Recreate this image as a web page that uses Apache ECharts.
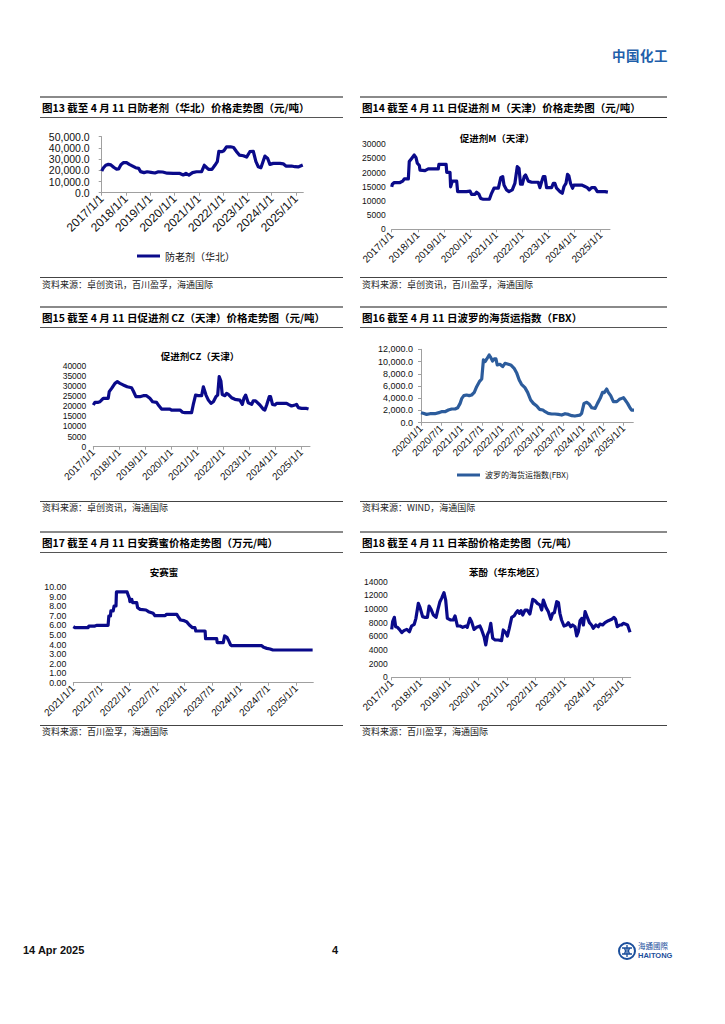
<!DOCTYPE html>
<html><head><meta charset="utf-8">
<script src="https://cdn.jsdelivr.net/npm/echarts@6/dist/echarts.min.js"></script>
<style>
html,body{margin:0;padding:0;background:#fff;}
body{width:725px;height:1024px;position:relative;overflow:hidden;font-family:"Noto Sans CJK SC","Liberation Sans",sans-serif;}
#chart{position:absolute;left:0;top:0;width:725px;height:1024px;}
.t{position:absolute;white-space:nowrap;z-index:2;}
.ptitle{font-size:10.5px;font-weight:bold;color:#000;line-height:14px;}
.src{font-size:9px;color:#222;line-height:12px;}
.ln{position:absolute;z-index:2;}
</style></head>
<body>
<div id="chart"></div>
<div class="t" style="left:612px;top:46px;font-size:13.5px;font-weight:bold;color:#1F5FAA;letter-spacing:0.5px;line-height:18px;">中国化工</div>

<!-- row 1 -->
<div class="ln" style="left:40px;top:96px;width:303px;height:2px;background:#8a8a8a"></div>
<div class="ln" style="left:360px;top:96px;width:307px;height:2px;background:#8a8a8a"></div>
<div class="t ptitle" style="left:42px;top:101px;">图13 截至 4 月 11 日防老剂（华北）价格走势图（元/吨）</div>
<div class="t ptitle" style="left:362px;top:101px;">图14 截至 4 月 11 日促进剂 M（天津）价格走势图（元/吨）</div>
<div class="ln" style="left:40px;top:117px;width:303px;height:1px;background:#555"></div>
<div class="ln" style="left:360px;top:117px;width:307px;height:1px;background:#222"></div>
<div class="ln" style="left:40px;top:277px;width:303px;height:1px;background:#444"></div>
<div class="ln" style="left:360px;top:277px;width:307px;height:1px;background:#444"></div>
<div class="t src" style="left:42px;top:279px;">资料来源：卓创资讯，百川盈孚，海通国际</div>
<div class="t src" style="left:362px;top:279px;">资料来源：卓创资讯，百川盈孚，海通国际</div>

<!-- row 2 -->
<div class="ln" style="left:40px;top:306px;width:303px;height:2px;background:#8a8a8a"></div>
<div class="ln" style="left:360px;top:306px;width:307px;height:2px;background:#8a8a8a"></div>
<div class="t ptitle" style="left:42px;top:311px;">图15 截至 4 月 11 日促进剂 CZ（天津）价格走势图（元/吨）</div>
<div class="t ptitle" style="left:362px;top:311px;">图16 截至 4 月 11 日波罗的海货运指数（FBX）</div>
<div class="ln" style="left:40px;top:327px;width:303px;height:1px;background:#555"></div>
<div class="ln" style="left:360px;top:327px;width:307px;height:1px;background:#555"></div>
<div class="ln" style="left:40px;top:501px;width:303px;height:1px;background:#444"></div>
<div class="ln" style="left:360px;top:501px;width:307px;height:1px;background:#444"></div>
<div class="t src" style="left:42px;top:502px;">资料来源：卓创资讯，海通国际</div>
<div class="t src" style="left:362px;top:502px;">资料来源：WIND，海通国际</div>

<!-- row 3 -->
<div class="ln" style="left:40px;top:531px;width:303px;height:2px;background:#8a8a8a"></div>
<div class="ln" style="left:360px;top:531px;width:307px;height:2px;background:#8a8a8a"></div>
<div class="t ptitle" style="left:42px;top:536px;">图17 截至 4 月 11 日安赛蜜价格走势图（万元/吨）</div>
<div class="t ptitle" style="left:362px;top:536px;">图18 截至 4 月 11 日苯酚价格走势图（元/吨）</div>
<div class="ln" style="left:40px;top:552px;width:303px;height:1px;background:#555"></div>
<div class="ln" style="left:360px;top:552px;width:307px;height:1px;background:#555"></div>
<div class="ln" style="left:40px;top:725px;width:303px;height:1px;background:#444"></div>
<div class="ln" style="left:360px;top:725px;width:307px;height:1px;background:#444"></div>
<div class="t src" style="left:42px;top:726px;">资料来源：百川盈孚，海通国际</div>
<div class="t src" style="left:362px;top:726px;">资料来源：百川盈孚，海通国际</div>

<!-- footer -->
<div class="t" style="left:23px;top:942px;font-family:'Liberation Sans',sans-serif;font-size:11px;font-weight:bold;color:#111;line-height:16px;">14 Apr 2025</div>
<div class="t" style="left:332px;top:942px;font-family:'Liberation Sans',sans-serif;font-size:11px;font-weight:bold;color:#111;line-height:16px;">4</div>
<svg class="t" style="left:618px;top:940px;" width="70" height="22" viewBox="0 0 70 22">
  <circle cx="9" cy="11" r="8" fill="none" stroke="#1B4F9C" stroke-width="2"/>
  <path d="M4 8 H14 M4 14 H14 M9 5 V17 M6 8 Q9 11 6 14 M12 8 Q9 11 12 14" stroke="#1B4F9C" stroke-width="1.3" fill="none"/>
  <text x="20" y="9" font-family="Noto Sans CJK TC" font-size="7.5" fill="#1B4F9C">海通國際</text>
  <text x="20" y="18" font-family="Liberation Sans" font-weight="bold" font-size="7.5" fill="#1B4F9C">HAITONG</text>
</svg>

<script>
// ---------------- DATA ----------------
// 图13 防老剂（华北） 元/吨
const dates13 = ['2017-01-01','2017-01-25','2017-03-01','2017-04-10','2017-05-18','2017-07-03','2017-08-12','2017-09-12','2017-10-16','2017-11-21','2018-01-10','2018-02-20','2018-04-03','2018-05-24','2018-07-09','2018-08-08','2018-09-28','2018-11-16','2019-01-12','2019-03-10','2019-05-01','2019-07-04','2019-09-13','2019-12-12','2020-03-20','2020-05-10','2020-06-20','2020-08-04','2020-09-28','2020-11-27','2021-02-12','2021-03-22','2021-04-25','2021-05-25','2021-07-15','2021-09-01','2021-10-04','2021-10-28','2021-12-09','2022-01-13','2022-02-21','2022-04-21','2022-06-06','2022-07-21','2022-09-01','2022-11-01','2022-12-19','2023-02-07','2023-03-28','2023-05-07','2023-06-12','2023-07-21','2023-09-21','2023-11-01','2023-12-04','2024-01-24','2024-05-04','2024-06-22','2024-08-01','2024-10-25','2024-12-15','2025-02-03','2025-04-11'];
const values13 = [19300,22000,24500,25300,24800,22500,21000,21200,25000,26800,26800,25300,24000,22300,21700,18800,17900,18700,18200,17600,18700,18500,17400,17300,17200,15800,17200,15700,17900,18700,18800,24500,22500,20800,20800,24700,27700,37000,36600,37500,41000,41000,40300,36600,33600,33000,31800,36600,37000,27700,23200,22300,32700,30500,25300,26200,26200,25800,23800,23800,23200,23000,24700];
const ticks13 = ['2017/1/1','2018/1/1','2019/1/1','2020/1/1','2021/1/1','2022/1/1','2023/1/1','2024/1/1','2025/1/1'];

// 图14 促进剂M（天津） 元/吨
const dates14 = ['2017-01-01','2017-01-10','2017-02-06','2017-04-25','2017-06-03','2017-06-25','2017-08-21','2017-09-03','2017-10-06','2017-11-12','2017-12-06','2017-12-25','2018-01-22','2018-02-01','2018-04-10','2018-05-25','2018-10-13','2018-10-22','2019-02-01','2019-02-10','2019-03-25','2019-04-03','2019-04-27','2019-06-27','2019-07-10','2019-11-12','2020-01-01','2020-01-22','2020-03-10','2020-04-01','2020-05-04','2020-05-28','2020-07-04','2020-09-28','2020-10-28','2020-12-01','2021-02-01','2021-03-04','2021-04-01','2021-04-19','2021-05-25','2021-06-28','2021-08-13','2021-09-19','2021-10-22','2021-11-16','2021-12-07','2022-01-01','2022-01-28','2022-02-16','2022-03-25','2022-05-10','2022-08-12','2022-09-04','2022-09-28','2022-10-21','2022-11-13','2022-12-06','2023-02-15','2023-03-09','2023-04-01','2023-04-24','2023-06-10','2023-07-12','2023-08-06','2023-09-03','2023-09-25','2023-10-13','2023-11-06','2023-12-04','2023-12-22','2024-04-10','2024-05-10','2024-06-27','2024-07-25','2024-08-27','2024-10-12','2024-11-15','2025-03-01','2025-04-11'];
const values14 = [15000,15900,16500,16500,17000,17800,17800,23900,25000,26200,25300,23300,22500,20900,20700,21300,21300,22900,22900,20100,20100,15000,17000,17000,13300,13300,13500,12350,12350,13100,12350,10900,10600,10600,12700,14500,14500,18200,18600,15600,13900,13300,13900,16200,22100,21500,15900,15900,18600,19200,17000,16600,16600,14700,16800,18600,18600,14700,14700,16200,16200,14500,13300,12700,15100,16200,19400,18900,16200,14500,15600,15600,15300,14700,13900,14700,14700,13300,13300,13100];
const ticks14 = ['2017/1/1','2018/1/1','2019/1/1','2020/1/1','2021/1/1','2022/1/1','2023/1/1','2024/1/1','2025/1/1'];

// 图15 促进剂CZ（天津） 元/吨
const dates15 = ['2017-01-01','2017-01-24','2017-03-10','2017-04-03','2017-04-25','2017-05-19','2017-07-28','2017-08-12','2017-09-15','2017-11-01','2017-12-04','2018-01-10','2018-02-25','2018-04-21','2018-06-21','2018-07-15','2018-08-21','2018-10-15','2018-12-03','2019-01-18','2019-03-04','2019-04-12','2019-06-07','2019-07-10','2019-08-16','2019-12-12','2020-01-04','2020-05-01','2020-06-07','2020-07-10','2020-10-12','2020-11-04','2020-12-07','2021-01-13','2021-03-01','2021-03-25','2021-05-01','2021-06-04','2021-07-10','2021-08-13','2021-09-19','2021-10-13','2021-11-04','2021-11-28','2021-12-16','2022-01-25','2022-02-16','2022-03-10','2022-04-25','2022-06-12','2022-08-21','2022-09-25','2022-10-16','2022-11-10','2022-12-16','2023-02-04','2023-02-25','2023-03-28','2023-05-28','2023-07-12','2023-08-06','2023-09-01','2023-10-07','2023-10-25','2023-11-22','2023-12-25','2024-01-19','2024-06-07','2024-07-01','2024-08-16','2024-10-04','2024-10-25','2024-11-19','2025-01-04','2025-03-13','2025-04-11'];
const values15 = [20600,21900,21900,22200,23000,23900,23900,27200,28800,31300,32100,31300,30500,29600,29100,27500,24700,24700,25200,25200,23900,22200,21900,20200,18600,18600,18100,18100,17000,16800,16800,20600,25500,25200,25200,29600,25500,23000,21400,22200,24700,25500,34600,32400,25800,25200,26300,25800,24200,23400,23000,20900,23900,25500,21700,20900,22600,22600,20600,18600,18100,20600,24700,24700,20900,20600,21400,21400,20900,20100,20600,20900,19300,18900,18900,18600];
const ticks15 = ['2017/1/1','2018/1/1','2019/1/1','2020/1/1','2021/1/1','2022/1/1','2023/1/1','2024/1/1','2025/1/1'];

// 图16 波罗的海货运指数(FBX)
const dates16 = ['2020-01-01','2020-01-21','2020-02-21','2020-03-21','2020-05-04','2020-06-19','2020-07-04','2020-08-04','2020-09-04','2020-10-04','2020-11-04','2020-11-28','2020-12-19','2021-01-04','2021-01-22','2021-02-16','2021-03-10','2021-04-01','2021-04-25','2021-05-16','2021-06-10','2021-07-01','2021-07-16','2021-08-01','2021-08-16','2021-09-07','2021-09-22','2021-10-07','2021-10-22','2021-11-07','2021-11-19','2021-12-13','2022-01-07','2022-01-28','2022-02-28','2022-03-19','2022-04-19','2022-05-13','2022-06-04','2022-06-25','2022-07-25','2022-08-19','2022-09-16','2022-10-10','2022-11-10','2022-12-04','2023-01-04','2023-01-25','2023-02-22','2023-03-22','2023-04-22','2023-05-22','2023-06-22','2023-07-22','2023-08-22','2023-09-22','2023-10-19','2023-12-04','2023-12-19','2024-01-10','2024-02-04','2024-02-28','2024-03-19','2024-04-19','2024-05-10','2024-06-04','2024-06-25','2024-07-10','2024-08-01','2024-08-16','2024-09-07','2024-10-01','2024-11-01','2024-11-25','2024-12-16','2025-01-01','2025-01-16','2025-02-07','2025-03-01','2025-03-13','2025-04-04'];
const values16 = [1640,1530,1360,1470,1470,1690,1800,1800,2070,2240,2240,2450,3160,3980,4420,4530,4420,4530,4960,5890,6710,7150,10260,10000,10420,11070,10640,10090,10420,10420,9440,9550,9170,9710,9550,9440,8890,8070,6980,6270,5730,4960,3710,3160,2730,2180,2070,1800,1530,1420,1420,1360,1250,1470,1360,1150,1090,1250,1530,3160,3330,3000,2450,2350,3160,3980,4960,4910,5510,4960,4420,3440,3440,3820,3980,4090,3710,3160,2350,2070,2070];
const ticks16 = ['2020/1/1','2020/7/1','2021/1/1','2021/7/1','2022/1/1','2022/7/1','2023/1/1','2023/7/1','2024/1/1','2024/7/1','2025/1/1'];

// 图17 安赛蜜 万元/吨
const dates17 = ['2021-01-01','2021-01-12','2021-04-07','2021-04-12','2021-05-21','2021-06-01','2021-08-16','2021-08-21','2021-09-01','2021-09-04','2021-09-19','2021-09-25','2021-10-07','2021-10-10','2021-12-19','2021-12-28','2022-01-04','2022-01-07','2022-01-19','2022-01-25','2022-02-21','2022-02-27','2022-03-13','2022-04-21','2022-05-07','2022-06-07','2022-06-19','2022-08-25','2022-09-04','2022-11-10','2022-11-19','2022-12-04','2022-12-28','2023-01-13','2023-02-01','2023-02-22','2023-03-07','2023-03-13','2023-05-13','2023-05-16','2023-07-28','2023-08-01','2023-09-10','2023-09-19','2023-10-04','2023-10-13','2023-10-28','2023-11-04','2024-05-19','2024-06-01','2024-06-22','2024-07-13','2024-08-01','2025-04-18'];
const values17 = [5.87,5.77,5.77,5.94,5.94,6.01,6.01,6.99,6.99,7.52,7.52,8.04,8.04,9.51,9.51,9.09,8.85,8.50,8.74,8.39,8.39,7.87,7.69,7.62,7.45,7.27,7.03,7.03,7.17,7.17,6.92,6.57,6.50,6.40,6.05,5.77,5.77,5.42,5.42,4.62,4.62,4.20,4.20,4.90,4.76,4.48,3.95,3.88,3.88,3.71,3.60,3.53,3.43,3.43];
const ticks17 = ['2021/1/1','2021/7/1','2022/1/1','2022/7/1','2023/1/1','2023/7/1','2024/1/1','2024/7/1','2025/1/1'];

// 图18 苯酚（华东地区） 元/吨
const dates18 = ['2017-01-01','2017-01-13','2017-02-04','2017-02-21','2017-03-13','2017-04-07','2017-05-07','2017-06-04','2017-07-10','2017-08-13','2017-09-10','2017-10-13','2017-11-04','2017-12-04','2017-12-25','2018-01-28','2018-02-28','2018-03-28','2018-04-19','2018-05-13','2018-06-13','2018-07-16','2018-08-07','2018-09-04','2018-09-25','2018-10-25','2018-11-16','2018-12-07','2019-01-19','2019-02-21','2019-03-13','2019-04-13','2019-05-16','2019-06-19','2019-08-01','2019-08-16','2019-09-19','2019-10-10','2019-11-10','2019-12-13','2020-01-25','2020-02-16','2020-03-16','2020-04-07','2020-04-28','2020-05-22','2020-06-10','2020-07-04','2020-08-04','2020-09-13','2020-10-25','2020-11-16','2020-12-16','2021-01-07','2021-02-01','2021-03-01','2021-04-01','2021-04-25','2021-05-16','2021-06-07','2021-06-28','2021-07-19','2021-08-19','2021-09-16','2021-10-19','2021-11-25','2021-12-22','2022-01-22','2022-02-25','2022-03-16','2022-04-07','2022-05-10','2022-06-10','2022-07-10','2022-08-04','2022-08-25','2022-09-25','2022-10-16','2022-11-04','2022-11-25','2022-12-25','2023-01-28','2023-02-19','2023-03-19','2023-04-13','2023-05-13','2023-06-04','2023-06-25','2023-07-16','2023-08-07','2023-08-28','2023-09-19','2023-10-10','2023-11-13','2023-12-10','2024-01-01','2024-02-04','2024-03-04','2024-03-25','2024-04-28','2024-05-28','2024-07-10','2024-08-22','2024-09-19','2024-10-10','2024-11-01','2024-12-04','2024-12-25','2025-01-16','2025-02-19','2025-03-10','2025-04-11'];
const values18 = [7020,8150,8780,7410,7320,7020,6540,6830,7020,6680,7510,7760,8630,10830,10240,8880,8780,8780,10440,9950,9120,8780,9850,11070,11560,12390,11320,8630,8390,8390,8980,7510,7510,7320,7510,7320,8630,8150,7020,7320,7510,6930,5950,4730,6200,6830,7900,5710,5460,5460,5370,6930,6540,6050,7170,8780,8980,9460,9760,9370,9760,9120,9850,9850,9270,11410,11220,10830,10590,9850,11320,10240,9610,8490,9370,9460,11070,10930,9370,8390,7510,7660,8000,7410,7660,7410,6050,6680,8290,8630,7660,9610,8980,8000,7660,7170,7660,7410,7800,7660,8000,8290,8490,8780,8490,7410,7660,7660,7900,7760,7660,6600];
const ticks18 = ['2017/1/1','2018/1/1','2019/1/1','2020/1/1','2021/1/1','2022/1/1','2023/1/1','2024/1/1','2025/1/1'];

// ---------------- HELPERS ----------------
function toMonths(ds, y0) {
  const p = ds.split('-').map(Number);
  return (p[0] - y0) * 12 + (p[1] - 1) + (p[2] - 1) / 30.5;
}
function pairs(dates, vals, y0) { return dates.map((d, i) => [toMonths(d, y0), vals[i]]); }

const NUM = '"Liberation Sans", Arial, sans-serif';
const CJK = '"Noto Sans CJK SC", sans-serif';
const NAVY = '#0A0A8A';
const FBX = '#2C5C9C';

const chart = echarts.init(document.getElementById('chart'), null, {renderer: 'svg'});

const cfg = [
  {left:101.7, top:136.7, width:201.6, height:56, xmax:99.6, step:12, ticks:ticks13, ymax:50000, yint:10000, yfmt:v=>v.toLocaleString('en-US',{minimumFractionDigits:1,maximumFractionDigits:1}), yline:true, yFont:10.5, xFont:12, yMargin:12},
  {left:391.7, top:144.3, width:218.3, height:85, xmax:100.3, step:12, ticks:ticks14, ymax:30000, yint:5000, yfmt:v=>String(v), yline:false, yFont:8.5, xFont:10, yMargin:6},
  {left:93.3, top:365.7, width:216.7, height:81, xmax:100, step:12, ticks:ticks15, ymax:40000, yint:5000, yfmt:v=>String(v), yline:false, yFont:8.5, xFont:10, yMargin:7},
  {left:421, top:349.3, width:212.3, height:73.4, xmax:62.9, step:6, ticks:ticks16, ymax:12000, yint:2000, yfmt:v=>v.toLocaleString('en-US',{minimumFractionDigits:1,maximumFractionDigits:1}), yline:true, yFont:9, xFont:10, yMargin:8},
  {left:73.3, top:587.3, width:240, height:95.4, xmax:51.7, step:6, ticks:ticks17, ymax:10, yint:1, yfmt:v=>v.toFixed(2), yline:false, yFont:8.8, xFont:10, yMargin:7},
  {left:391.7, top:581.7, width:239, height:95.6, xmax:99.6, step:12, ticks:ticks18, ymax:14000, yint:2000, yfmt:v=>String(v), yline:false, yFont:8.5, xFont:10, yMargin:4}
];
const seriesData = [
  {name:'防老剂（华北）', data:pairs(dates13, values13, 2017), color:NAVY},
  {name:'促进剂M（天津）', data:pairs(dates14, values14, 2017), color:NAVY},
  {name:'促进剂CZ（天津）', data:pairs(dates15, values15, 2017), color:NAVY},
  {name:'波罗的海货运指数(FBX)', data:pairs(dates16, values16, 2020), color:FBX},
  {name:'安赛蜜', data:pairs(dates17, values17, 2021), color:NAVY},
  {name:'苯酚（华东地区）', data:pairs(dates18, values18, 2017), color:NAVY}
];

const grids = [], xAxes = [], yAxes = [], series = [];
cfg.forEach((c, i) => {
  grids.push({left:c.left, top:c.top, width:c.width, height:c.height, containLabel:false});
  xAxes.push({
    type:'value', gridIndex:i, min:0, max:c.xmax, interval:c.step,
    axisLine:{show:true, lineStyle:{color:'#A0A0A0', width:1}},
    axisTick:{show:true, length:3, lineStyle:{color:'#A0A0A0'}},
    splitLine:{show:false},
    axisLabel:{
      rotate:45, margin:4, fontSize:c.xFont, fontFamily:NUM, color:'#111', showMaxLabel:false,
      formatter:(v)=>{ const k = v / c.step; if (Math.abs(k - Math.round(k)) > 1e-6) return ''; return c.ticks[Math.round(k)] || ''; }
    }
  });
  yAxes.push({
    type:'value', gridIndex:i, min:0, max:c.ymax, interval:c.yint,
    axisLine:{show:c.yline, lineStyle:{color:'#A0A0A0'}},
    axisTick:{show:c.yline, length:3, lineStyle:{color:'#A0A0A0'}},
    splitLine:{show:false},
    axisLabel:{fontSize:c.yFont, fontFamily:NUM, color:'#111', margin:c.yMargin, formatter:c.yfmt}
  });
  const s = seriesData[i];
  series.push({
    name:s.name, type:'line', xAxisIndex:i, yAxisIndex:i, data:s.data,
    showSymbol:false, symbol:'none', smooth:false, animation:false,
    lineStyle:{color:s.color, width:3.2, join:'round'}, itemStyle:{color:s.color}
  });
});

const titleFont = 'bold 9.5px "Noto Sans CJK SC", sans-serif';
const option = {
  animation:false,
  grid:grids, xAxis:xAxes, yAxis:yAxes, series:series,
  legend:[
    {data:['防老剂（华北）'], left:132, top:246, icon:'rect', itemWidth:23, itemHeight:3, itemGap:5,
     textStyle:{fontSize:10, fontFamily:CJK, color:'#111'}},
    {data:['波罗的海货运指数(FBX)'], left:452, top:466, icon:'rect', itemWidth:23, itemHeight:3, itemGap:5,
     textStyle:{fontSize:8, fontFamily:CJK, color:'#111'}}
  ],
  graphic:[
    {type:'text', x:497, y:138, style:{text:'促进剂M（天津）', font:titleFont, fill:'#000', textAlign:'center', textVerticalAlign:'middle'}},
    {type:'text', x:200, y:356, style:{text:'促进剂CZ（天津）', font:titleFont, fill:'#000', textAlign:'center', textVerticalAlign:'middle'}},
    {type:'text', x:164, y:572, style:{text:'安赛蜜', font:titleFont, fill:'#000', textAlign:'center', textVerticalAlign:'middle'}},
    {type:'text', x:507, y:572, style:{text:'苯酚（华东地区）', font:titleFont, fill:'#000', textAlign:'center', textVerticalAlign:'middle'}}
  ]
};
chart.setOption(option);
</script>
</body></html>
